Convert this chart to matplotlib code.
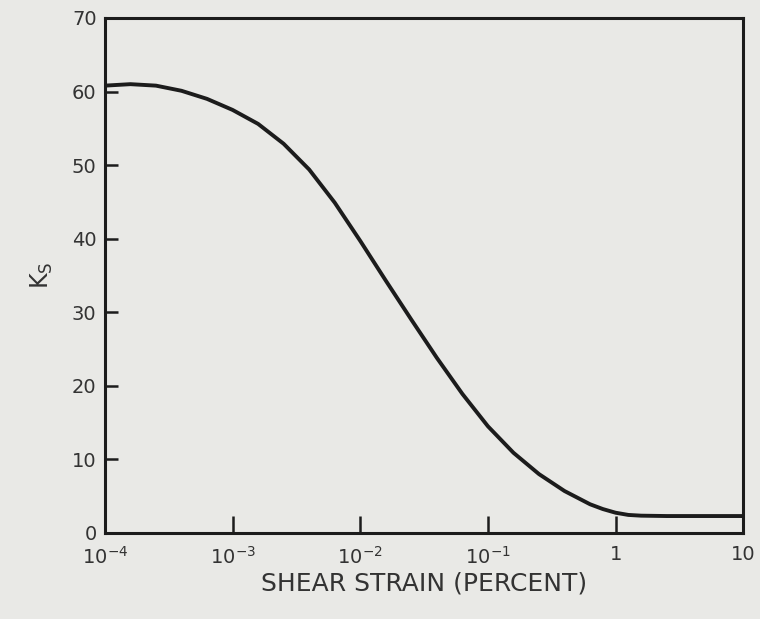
import matplotlib
matplotlib.use("Agg")
import matplotlib.pyplot as plt
import numpy as np

# values (strain as decade exponent)
log_strain = [-4.0, -3.8, -3.6, -3.4, -3.2, -3.0, -2.8, -2.6, -2.4, -2.2, -2.0,
              -1.8, -1.6, -1.4, -1.2, -1.0, -0.8, -0.6, -0.4, -0.2, -0.1, 0.0,
              0.1, 0.2, 0.4, 0.7, 1.0]
ks = [60.8, 61.0, 60.8, 60.1, 59.0, 57.5, 55.6, 52.9, 49.4, 44.9, 39.7,
      34.3, 29.0, 23.8, 18.9, 14.5, 10.9, 8.0, 5.7, 3.9, 3.25, 2.75,
      2.45, 2.35, 2.3, 2.3, 2.3]
strain = [10.0 ** e for e in log_strain]

xticks = [1e-4, 1e-3, 1e-2, 1e-1, 1, 10]
xlabels = [r'$\mathregular{10^{-4}}$', r'$\mathregular{10^{-3}}$', r'$\mathregular{10^{-2}}$',
           r'$\mathregular{10^{-1}}$', '1', '10']
yticks = [0, 10, 20, 30, 40, 50, 60, 70]

bg = '#e9e9e6'
ink = '#1c1c1c'

plt.rcParams['font.family'] = 'DejaVu Sans'
fig = plt.figure(figsize=(7.6, 6.19), dpi=100, facecolor=bg)
ax = fig.add_axes([0.138, 0.139, 0.840, 0.832], facecolor=bg)

ax.plot(strain, ks, color=ink, linewidth=2.8, solid_joinstyle='round')

ax.set_xscale('log')
ax.set_xlim(1e-4, 10)
ax.set_ylim(0, 70)
ax.set_xticks(xticks)
ax.set_xticklabels(xlabels)
ax.minorticks_off()
ax.set_yticks(yticks)

for s in ax.spines.values():
    s.set_linewidth(2.2)
    s.set_color(ink)

ax.tick_params(axis='both', direction='in', color=ink, width=1.8, labelsize=14,
               labelcolor='#333333')
ax.tick_params(axis='x', length=12, pad=9)
ax.tick_params(axis='y', length=9, pad=6)

ax.set_xlabel('SHEAR STRAIN (PERCENT)', fontsize=18, color='#333333', labelpad=3)
ax.set_ylabel(r'K$\mathregular{_S}$', fontsize=17, color='#333333', labelpad=12)

fig.savefig('out.png', dpi=100, facecolor=bg)
